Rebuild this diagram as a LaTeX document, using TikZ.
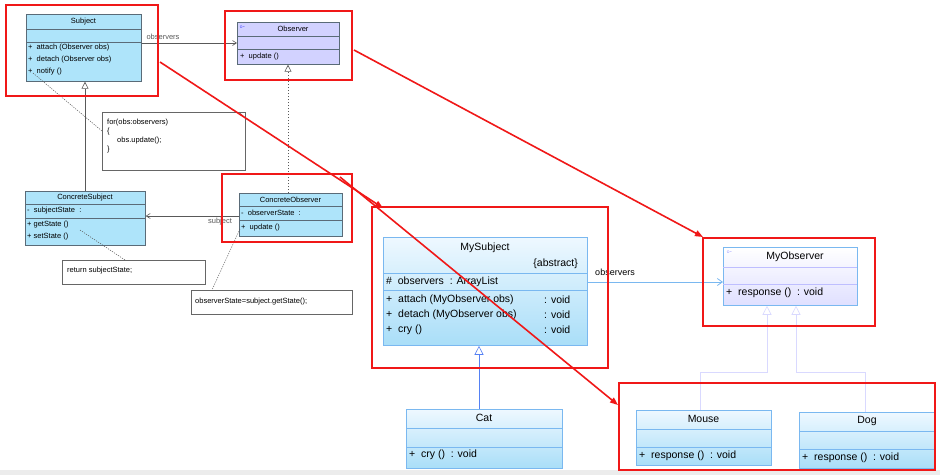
\documentclass[tikz,border=0pt]{standalone}
\usepackage{fontspec}
\setmainfont{Liberation Sans}
\usetikzlibrary{arrows.meta}
\definecolor{oldfill}{HTML}{AEE4FA}
\definecolor{oldline}{HTML}{5A6B78}
\definecolor{obsfill}{HTML}{D2D2FF}
\definecolor{newline}{HTML}{7AB8F0}
\definecolor{newtop}{HTML}{EEF8FF}
\definecolor{newbot}{HTML}{A9DEF8}
\definecolor{redc}{HTML}{F01818}
\tikzset{
 oldc/.style={draw=oldline, fill=oldfill, line width=0.7pt, anchor=north west, inner sep=0},
 obsc/.style={draw=oldline, fill=obsfill, line width=0.7pt, anchor=north west, inner sep=0},
 newc/.style={draw=newline, top color=newtop, bottom color=newbot, line width=0.8pt, anchor=north west, inner sep=0},
 sep/.style={draw=oldline, line width=0.6pt},
 nsep/.style={draw=newline, line width=0.7pt},
 t/.style={font=\fontsize{7.5}{9}\selectfont, inner sep=0, anchor=west},
 tc/.style={font=\fontsize{7.5}{9}\selectfont, inner sep=0},
 T/.style={font=\fontsize{10.5}{12}\selectfont, inner sep=0, anchor=west},
 Tc/.style={font=\fontsize{10.5}{12}\selectfont, inner sep=0},
 note/.style={draw=gray!80!black, fill=white, line width=0.6pt, anchor=north west, inner sep=0},
 red/.style={draw=redc, line width=1.8pt},
 rarrow/.style={draw=redc, line width=1.6pt, -{Triangle[length=8pt,width=6pt]}},
 gen/.style={draw=gray!70!black, line width=0.6pt, -{Triangle[open,length=7pt,width=7pt,fill=white]}},
 ngen/.style={draw=newline!70!blue, line width=0.6pt, -{Triangle[open,length=9pt,width=9pt,fill=white]}},
 dot/.style={draw=gray!70!black, line width=0.5pt, dash pattern=on 1.2pt off 1.2pt},
}
\begin{document}
\begin{tikzpicture}[x=1pt,y=-1pt]
\useasboundingbox (0,0) rectangle (940,475);
\fill[white] (0,0) rectangle (940,475);
\fill[gray!15] (0,470) rectangle (940,475);
% ---------- left original diagram ----------
\node[oldc, minimum width=115, minimum height=67] (subj) at (26,14) {};
\draw[sep] (26,29) -- (141,29) (26,42) -- (141,42);
\node[tc] at (83.5,21.5) {Subject};
\node[t] at (28,48) {+\ \ attach (Observer obs)};
\node[t] at (28,60) {+\ \ detach (Observer obs)};
\node[t] at (28,72) {+\ \ notify ()};

\node[obsc, minimum width=102, minimum height=42] (obs) at (237,22) {};
\draw[sep] (237,36) -- (339,36) (237,49) -- (339,49);
\node[tc] at (293,29) {Observer};
\node[font=\tiny, text=blue, inner sep=0] at (242,27) {$\circ$-};
\node[t] at (240,57) {+\ \ update ()};

\node[oldc, minimum width=120, minimum height=54] (csub) at (25,191) {};
\draw[sep] (25,204) -- (145,204) (25,218) -- (145,218);
\node[tc] at (85,197.5) {ConcreteSubject};
\node[t] at (27,211) {-\ \ subjectState\ \ :};
\node[t] at (27,225) {+\ getState ()};
\node[t] at (27,237) {+\ setState ()};

\node[oldc, minimum width=103, minimum height=43] (cobs) at (239,193) {};
\draw[sep] (239,206) -- (342,206) (239,220) -- (342,220);
\node[tc] at (290.5,199.5) {ConcreteObserver};
\node[t] at (241,213) {-\ \ observerState\ \ :};
\node[t] at (241,228) {+\ \ update ()};

\node[note, minimum width=143, minimum height=58] (n1) at (102,112) {};
\draw[gray!80!black,line width=0.5pt] (239,112) -- (245,118);
\node[t, anchor=north west, align=left] at (107,119) {for(obs:observers)\\\{\\\hspace{10pt}obs.update();\\\}};
\node[note, minimum width=143, minimum height=24] (n2) at (62,260) {};
\node[t] at (67,271) {return subjectState;};
\node[note, minimum width=161, minimum height=24] (n3) at (191,290) {};
\node[t] at (195,302) {observerState=subject.getState();};

\draw[gray!70!black,line width=0.6pt,-{Straight Barb[length=4pt,width=5pt]}] (subj.east|-0,43) -- (obs.west|-0,43);
\node[tc, text=gray!70!black] at (163,37) {observers};
\draw[gen] (csub.north-|85,0) -- (subj.south-|85,0);
\draw[gen, dash pattern=on 1.5pt off 1.5pt] (cobs.north-|288,0) -- (obs.south-|288,0);
\draw[gray!70!black,line width=0.6pt,-{Straight Barb[length=4pt,width=5pt]}] (cobs.west|-0,216) -- (csub.east|-0,216);
\node[tc, text=gray!70!black] at (220,222) {subject};
\coordinate (p1) at (33,73); \coordinate (p2) at (80,230); \coordinate (p3) at (240,229);
\draw[dot] (p1) -- (n1.west|-0,131);
\draw[dot] (p2) -- (n2.north-|125,0);
\draw[dot] (p3) -- (n3.north-|212,0);
% ---------- new diagram ----------
\node[newc, minimum width=204, minimum height=108] (msub) at (383,237) {};
\draw[nsep] (383,273) -- (587,273) (383,290) -- (587,290);
\node[Tc] at (485,248) {MySubject};
\node[Tc, anchor=east] at (578,264) {\{abstract\}};
\node[T] at (386,282) {\#\ \ observers\ \ : ArrayList};
\node[T] at (386,300) {+\ \ attach (MyObserver obs)};
\node[T] at (386,315) {+\ \ detach (MyObserver obs)};
\node[T] at (386,330) {+\ \ cry ()};
\node[T] at (544,300) {: void};
\node[T] at (544,315) {: void};
\node[T] at (544,330) {: void};

\node[newc, top color=white, bottom color=obsfill!70!white, minimum width=134, minimum height=58] (mobs) at (723,247) {};
\draw[nsep, draw=obsfill!70!blue!60] (723,267) -- (857,267) (723,284) -- (857,284);
\node[Tc] at (795,257) {MyObserver};
\node[font=\tiny, text=blue!60, inner sep=0] at (729,252) {$\circ$-};
\node[T] at (726,293) {+\ \ response ()\ \ : void};

\node[newc, minimum width=156, minimum height=59] (cat) at (406,409) {};
\draw[nsep] (406,428) -- (562,428) (406,447) -- (562,447);
\node[Tc] at (484,418) {Cat};
\node[T] at (409,455) {+\ \ cry ()\ \ : void};

\node[newc, minimum width=135, minimum height=55] (mouse) at (636,410) {};
\draw[nsep] (636,429) -- (771,429) (636,447) -- (771,447);
\node[Tc] at (703.5,419) {Mouse};
\node[T] at (639,456) {+\ \ response ()\ \ : void};

\node[newc, minimum width=136, minimum height=56] (dog) at (799,412) {};
\draw[nsep] (799,431) -- (935,431) (799,449) -- (935,449);
\node[Tc] at (867,421) {Dog};
\node[T] at (802,458) {+\ \ response ()\ \ : void};

\draw[newline,line width=0.8pt,-{Straight Barb[length=5pt,width=7pt]}] (msub.east|-0,282) -- (mobs.west|-0,282);
\node[Tc, font=\fontsize{9}{10}\selectfont] at (615,272) {observers};
\draw[ngen] (cat.north-|479,0) -- (msub.south-|479,0);
\draw[ngen, draw=blue!15] (mouse.north-|700,0) |- (767,372) -- (mobs.south-|767,0);
\draw[ngen, draw=blue!15] (dog.north-|865,0) |- (796,372) -- (mobs.south-|796,0);
% ---------- red annotations ----------
\draw[red] (6,5) rectangle (158,96);
\draw[red] (225,11) rectangle (352,80);
\draw[red] (222,174) rectangle (352,242);
\draw[red] (372,207) rectangle (608,368);
\draw[red] (703,238) rectangle (875,326);
\draw[red] (619,383) rectangle (935,470);
\coordinate (a1) at (160,62); \coordinate (b1) at (383,208);
\coordinate (a2) at (354,50); \coordinate (b2) at (703,237);
\coordinate (a3) at (340,177); \coordinate (b3) at (618,405);
\draw[rarrow] (a1) -- (b1);
\draw[rarrow] (a2) -- (b2);
\draw[rarrow] (a3) -- (b3);
\end{tikzpicture}
\end{document}
